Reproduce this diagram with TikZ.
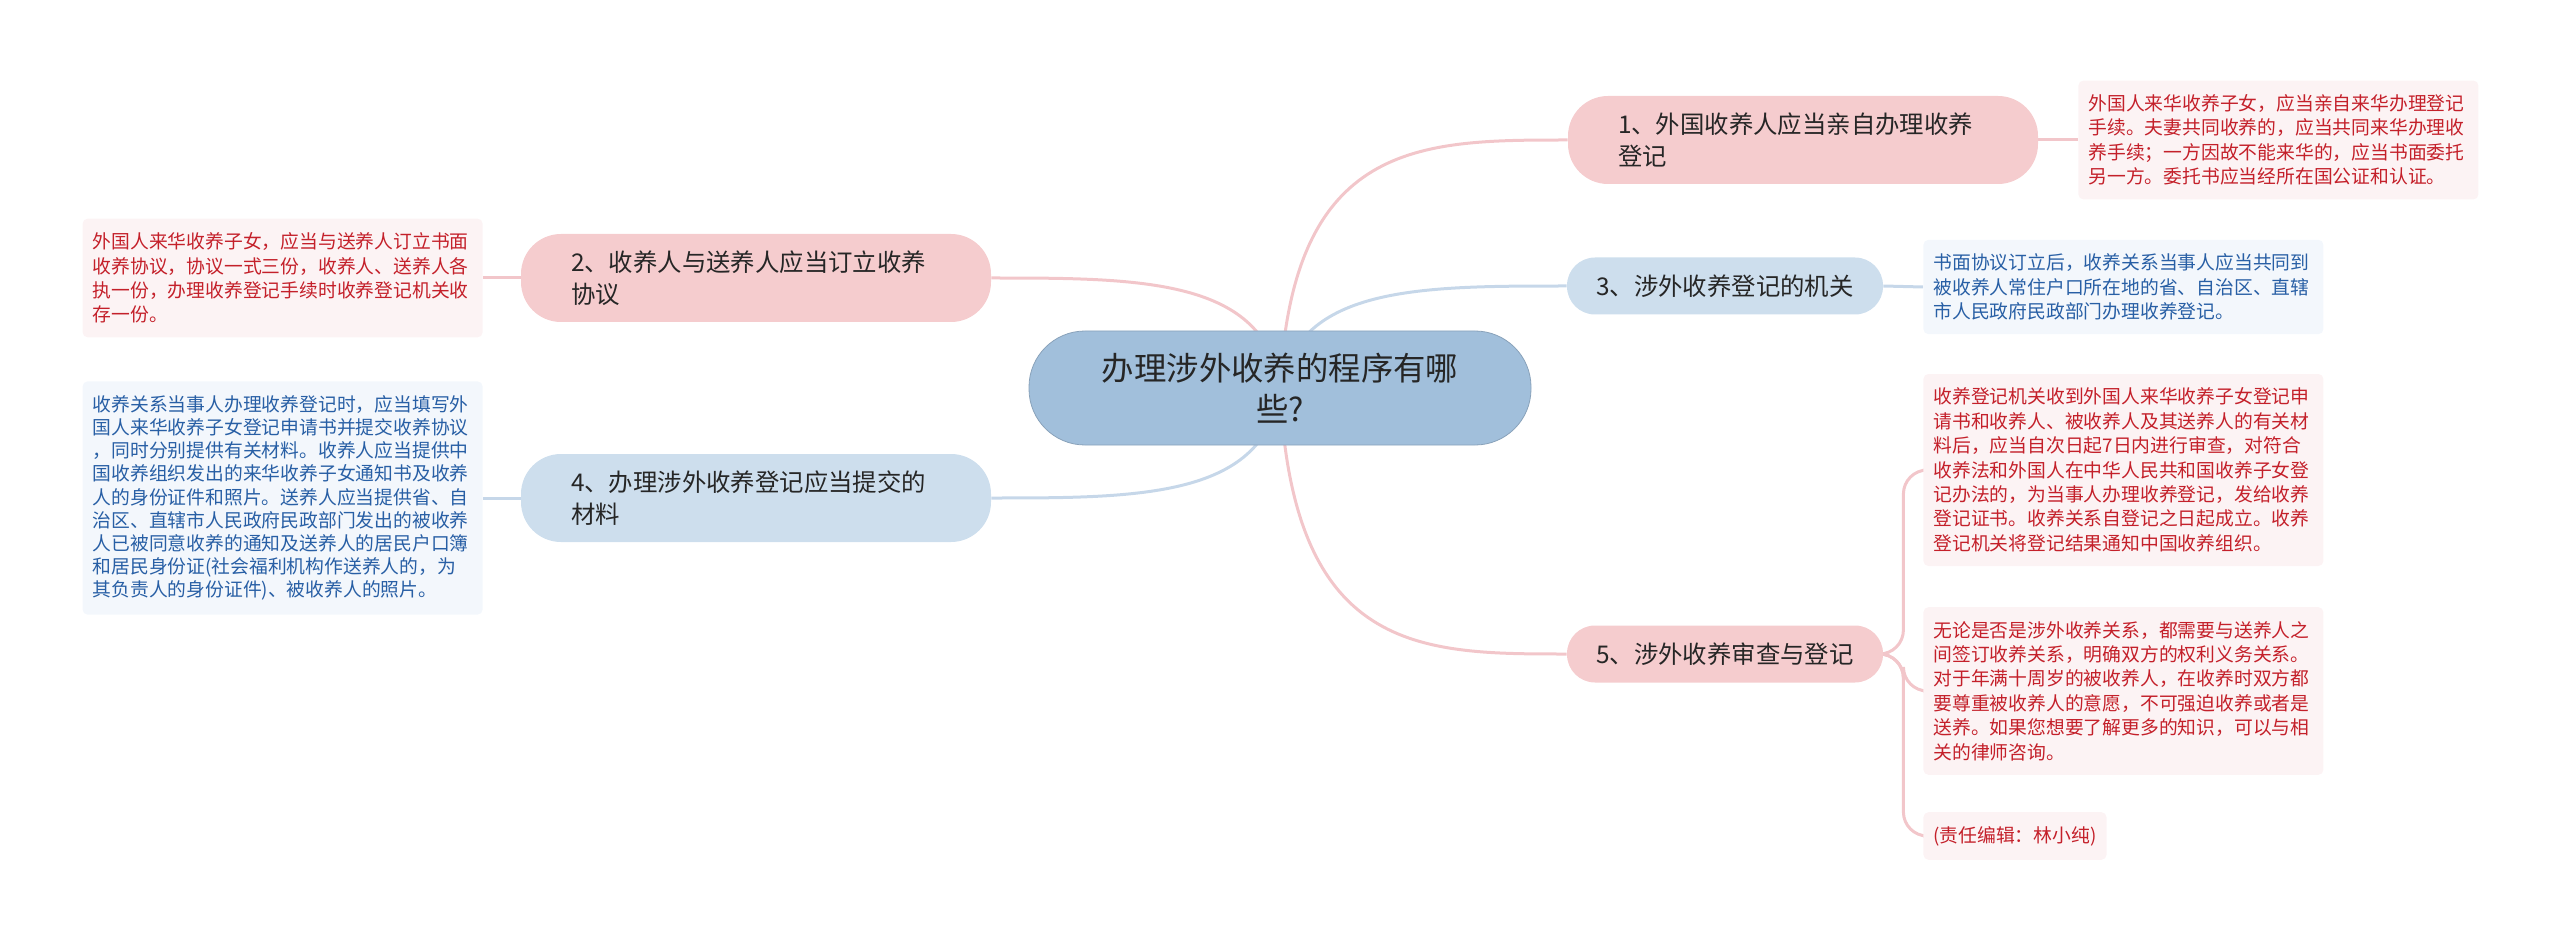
\documentclass[tikz,border=0pt]{standalone}
\usepackage{fontspec}
\usepackage{tikz}
\usetikzlibrary{backgrounds}
\newfontfamily\cjk{Noto Sans CJK SC}
\definecolor{rootfill}{RGB}{161,191,219}
\definecolor{pinkfill}{RGB}{245,204,206}
\definecolor{bluefill}{RGB}{205,222,237}
\definecolor{pinkline}{RGB}{242,198,202}
\definecolor{blueline}{RGB}{198,215,233}
\definecolor{pinkleaf}{RGB}{252,243,244}
\definecolor{blueleaf}{RGB}{243,247,252}
\definecolor{redtext}{RGB}{196,32,42}
\definecolor{bluetext}{RGB}{40,95,165}

\begin{document}
\begin{tikzpicture}[x=0.5pt, y=-0.5pt,
  root/.style={fill=rootfill, draw=rootfill!85!black, line width=0.4pt,
    rounded corners=28pt, minimum width=251pt, minimum height=57pt,
    align=center, text=black!85,
    font=\cjk\fontsize{16.2}{20.5}\selectfont},
  topic/.style={rounded corners=20pt, minimum height=44pt, inner xsep=25pt,
    text width=185pt, align=left, text=black!85,
    font=\cjk\fontsize{12.2}{16}\selectfont},
  shorttopic/.style={topic, text width=, rounded corners=14pt,
    minimum width=158pt, minimum height=28.5pt, inner xsep=8pt, align=center},
  leaf/.style={rounded corners=2.5pt, inner xsep=5pt, inner ysep=7pt,
    text width=190pt, align=left,
    font=\cjk\fontsize{9.4}{12.2}\selectfont},
  redleaf/.style={leaf, fill=pinkleaf, text=redtext},
  blueleaf/.style={leaf, fill=blueleaf, text=bluetext},
  pinklink/.style={draw=pinkline, line width=1.5pt},
  bluelink/.style={draw=blueline, line width=1.5pt}
]
\useasboundingbox (0,0) rectangle (2560,941);

% central topic
\node[root] (root) at (1280,388) {办理涉外收养的程序有哪\\些?};

% right branches
\node[topic, fill=pinkfill] (n1) at (1803,140)
  {1、外国收养人应当亲自办理收养\\登记};
\node[shorttopic, fill=bluefill] (n3) at (1725,286) {3、涉外收养登记的机关};
\node[shorttopic, fill=pinkfill] (n5) at (1725,654) {5、涉外收养审查与登记};

% left branches
\node[topic, fill=pinkfill] (n2) at (756,278)
  {2、收养人与送养人应当订立收养\\协议};
\node[topic, fill=bluefill] (n4) at (756,498)
  {4、办理涉外收养登记应当提交的\\材料};

% details
\node[redleaf, anchor=west] (l1) at (2078,140)
  {外国人来华收养子女，应当亲自来华办理登记\\
   手续。夫妻共同收养的，应当共同来华办理收\\
   养手续；一方因故不能来华的，应当书面委托\\
   另一方。委托书应当经所在国公证和认证。};
\node[blueleaf, anchor=west] (l3) at (1923,287)
  {书面协议订立后，收养关系当事人应当共同到\\
   被收养人常住户口所在地的省、自治区、直辖\\
   市人民政府民政部门办理收养登记。};
\node[redleaf, anchor=west] (l5a) at (1923,470)
  {收养登记机关收到外国人来华收养子女登记申\\
   请书和收养人、被收养人及其送养人的有关材\\
   料后，应当自次日起7日内进行审查，对符合\\
   收养法和外国人在中华人民共和国收养子女登\\
   记办法的，为当事人办理收养登记，发给收养\\
   登记证书。收养关系自登记之日起成立。收养\\
   登记机关将登记结果通知中国收养组织。};
\node[redleaf, anchor=west] (l5b) at (1923,691)
  {无论是否是涉外收养关系，都需要与送养人之\\
   间签订收养关系，明确双方的权利义务关系。\\
   对于年满十周岁的被收养人，在收养时双方都\\
   要尊重被收养人的意愿，不可强迫收养或者是\\
   送养。如果您想要了解更多的知识，可以与相\\
   关的律师咨询。};
\node[redleaf, anchor=west, text width=] (l5c) at (1923,836)
  {(责任编辑：林小纯)};
\node[redleaf, anchor=east] (l2) at (483,278)
  {外国人来华收养子女，应当与送养人订立书面\\
   收养协议，协议一式三份，收养人、送养人各\\
   执一份，办理收养登记手续时收养登记机关收\\
   存一份。};
\node[blueleaf, anchor=east, font=\cjk\fontsize{9.4}{11.6}\selectfont]
  (l4) at (483,498)
  {收养关系当事人办理收养登记时，应当填写外\\
   国人来华收养子女登记申请书并提交收养协议\\
   ，同时分别提供有关材料。收养人应当提供中\\
   国收养组织发出的来华收养子女通知书及收养\\
   人的身份证件和照片。送养人应当提供省、自\\
   治区、直辖市人民政府民政部门发出的被收养\\
   人已被同意收养的通知及送养人的居民户口簿\\
   和居民身份证(社会福利机构作送养人的，为\\
   其负责人的身份证件)、被收养人的照片。};

% connectors
\begin{scope}[on background layer]
\draw[pinklink] (root.center) .. controls (1292,140) and (1420,140) .. (n1.west);
\draw[bluelink] (root.center) .. controls (1300,286) and (1420,286) .. (n3.west);
\draw[pinklink] (root.center) .. controls (1292,654) and (1420,654) .. (n5.west);
\draw[pinklink] (root.center) .. controls (1266,278) and (1140,278) .. (n2.east);
\draw[bluelink] (root.center) .. controls (1266,498) and (1140,498) .. (n4.east);

\draw[pinklink] (n1.east) -- (l1.west);
\draw[bluelink] (n3.east) -- (l3.west);
\draw[pinklink] (n2.west) -- (l2.east);
\draw[bluelink] (n4.west) -- (l4.east);
\draw[pinklink, rounded corners=12pt] (n5.east) -- ++(20,0) |- (l5a.west);
\draw[pinklink, rounded corners=12pt] (n5.east) -- ++(20,0) |- (l5b.west);
\draw[pinklink, rounded corners=12pt] (n5.east) -- ++(20,0) |- (l5c.west);
\end{scope}
\end{tikzpicture}
\end{document}
